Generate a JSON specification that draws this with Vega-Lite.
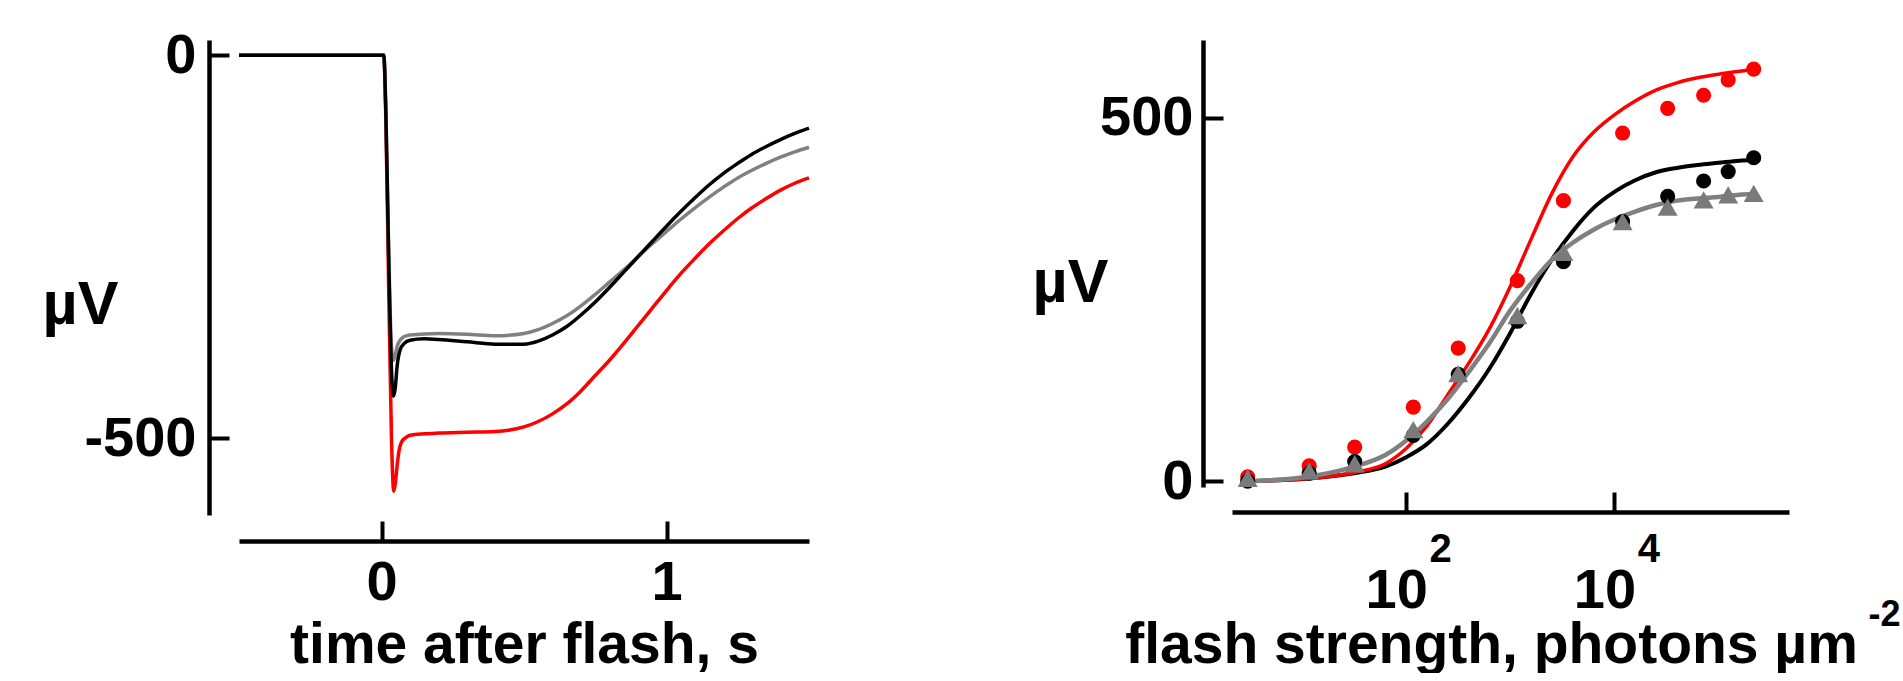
{
  "$schema": "https://vega.github.io/schema/vega-lite/v6.json",
  "background": "white",
  "padding": {"left": 42, "top": 27, "right": 0, "bottom": 0},
  "config": {
    "view": {"stroke": null},
    "font": "Liberation Sans",
    "axis": {
      "labelFont": "Liberation Sans",
      "titleFont": "Liberation Sans",
      "labelFontWeight": "bold",
      "titleFontWeight": "bold",
      "labelColor": "#000000",
      "titleColor": "#000000",
      "domainColor": "#000000",
      "tickColor": "#000000",
      "grid": false,
      "domainWidth": 4.5,
      "tickWidth": 4,
      "tickSize": -20,
      "domainCap": "butt",
      "labelFontSize": 56,
      "titleFontSize": 57,
      "labelOverlap": false,
      "labelFlush": false,
      "labelBound": false
    }
  },
  "datasets": {
    "traces": [
      {"t": -0.5, "uV": 0, "trace": "red"}, {"t": 0.008, "uV": 0, "trace": "red"}, {"t": 0.015, "uV": -80, "trace": "red"}, {"t": 0.025, "uV": -300, "trace": "red"}, {"t": 0.035, "uV": -500, "trace": "red"}, {"t": 0.043, "uV": -569, "trace": "red"}, {"t": 0.048, "uV": -560, "trace": "red"}, {"t": 0.055, "uV": -535, "trace": "red"}, {"t": 0.062, "uV": -515, "trace": "red"}, {"t": 0.07, "uV": -505, "trace": "red"}, {"t": 0.085, "uV": -499, "trace": "red"}, {"t": 0.1, "uV": -496, "trace": "red"}, {"t": 0.15, "uV": -494, "trace": "red"}, {"t": 0.2, "uV": -493, "trace": "red"}, {"t": 0.3, "uV": -492, "trace": "red"}, {"t": 0.4, "uV": -491, "trace": "red"}, {"t": 0.45, "uV": -489, "trace": "red"}, {"t": 0.5, "uV": -485, "trace": "red"}, {"t": 0.55, "uV": -478, "trace": "red"}, {"t": 0.6, "uV": -468, "trace": "red"}, {"t": 0.65, "uV": -455, "trace": "red"}, {"t": 0.7, "uV": -438, "trace": "red"}, {"t": 0.75, "uV": -418, "trace": "red"}, {"t": 0.8, "uV": -398, "trace": "red"}, {"t": 0.85, "uV": -376, "trace": "red"}, {"t": 0.9, "uV": -353, "trace": "red"}, {"t": 0.95, "uV": -330, "trace": "red"}, {"t": 1.0, "uV": -307, "trace": "red"}, {"t": 1.05, "uV": -285, "trace": "red"}, {"t": 1.1, "uV": -265, "trace": "red"}, {"t": 1.15, "uV": -246, "trace": "red"}, {"t": 1.2, "uV": -229, "trace": "red"}, {"t": 1.25, "uV": -213, "trace": "red"}, {"t": 1.3, "uV": -199, "trace": "red"}, {"t": 1.35, "uV": -187, "trace": "red"}, {"t": 1.4, "uV": -176, "trace": "red"}, {"t": 1.45, "uV": -167, "trace": "red"}, {"t": 1.5, "uV": -160, "trace": "red"},
      {"t": -0.5, "uV": 0, "trace": "gray"}, {"t": 0.008, "uV": 0, "trace": "gray"}, {"t": 0.015, "uV": -70, "trace": "gray"}, {"t": 0.025, "uV": -250, "trace": "gray"}, {"t": 0.035, "uV": -380, "trace": "gray"}, {"t": 0.042, "uV": -398, "trace": "gray"}, {"t": 0.048, "uV": -392, "trace": "gray"}, {"t": 0.055, "uV": -380, "trace": "gray"}, {"t": 0.065, "uV": -372, "trace": "gray"}, {"t": 0.08, "uV": -367, "trace": "gray"}, {"t": 0.1, "uV": -365, "trace": "gray"}, {"t": 0.2, "uV": -363, "trace": "gray"}, {"t": 0.3, "uV": -364, "trace": "gray"}, {"t": 0.4, "uV": -366, "trace": "gray"}, {"t": 0.5, "uV": -363, "trace": "gray"}, {"t": 0.55, "uV": -358, "trace": "gray"}, {"t": 0.6, "uV": -350, "trace": "gray"}, {"t": 0.65, "uV": -340, "trace": "gray"}, {"t": 0.7, "uV": -327, "trace": "gray"}, {"t": 0.75, "uV": -312, "trace": "gray"}, {"t": 0.8, "uV": -296, "trace": "gray"}, {"t": 0.85, "uV": -280, "trace": "gray"}, {"t": 0.9, "uV": -263, "trace": "gray"}, {"t": 0.95, "uV": -246, "trace": "gray"}, {"t": 1.0, "uV": -230, "trace": "gray"}, {"t": 1.05, "uV": -214, "trace": "gray"}, {"t": 1.1, "uV": -199, "trace": "gray"}, {"t": 1.15, "uV": -185, "trace": "gray"}, {"t": 1.2, "uV": -172, "trace": "gray"}, {"t": 1.25, "uV": -160, "trace": "gray"}, {"t": 1.3, "uV": -150, "trace": "gray"}, {"t": 1.35, "uV": -141, "trace": "gray"}, {"t": 1.4, "uV": -133, "trace": "gray"}, {"t": 1.45, "uV": -126, "trace": "gray"}, {"t": 1.5, "uV": -120, "trace": "gray"},
      {"t": -0.5, "uV": 0, "trace": "black"}, {"t": 0.008, "uV": 0, "trace": "black"}, {"t": 0.015, "uV": -70, "trace": "black"}, {"t": 0.025, "uV": -260, "trace": "black"}, {"t": 0.035, "uV": -410, "trace": "black"}, {"t": 0.042, "uV": -445, "trace": "black"}, {"t": 0.048, "uV": -435, "trace": "black"}, {"t": 0.055, "uV": -405, "trace": "black"}, {"t": 0.065, "uV": -385, "trace": "black"}, {"t": 0.08, "uV": -376, "trace": "black"}, {"t": 0.1, "uV": -372, "trace": "black"}, {"t": 0.15, "uV": -370, "trace": "black"}, {"t": 0.2, "uV": -371, "trace": "black"}, {"t": 0.3, "uV": -374, "trace": "black"}, {"t": 0.4, "uV": -377, "trace": "black"}, {"t": 0.5, "uV": -377, "trace": "black"}, {"t": 0.55, "uV": -373, "trace": "black"}, {"t": 0.6, "uV": -365, "trace": "black"}, {"t": 0.65, "uV": -354, "trace": "black"}, {"t": 0.7, "uV": -339, "trace": "black"}, {"t": 0.75, "uV": -322, "trace": "black"}, {"t": 0.8, "uV": -303, "trace": "black"}, {"t": 0.85, "uV": -283, "trace": "black"}, {"t": 0.9, "uV": -263, "trace": "black"}, {"t": 0.95, "uV": -243, "trace": "black"}, {"t": 1.0, "uV": -223, "trace": "black"}, {"t": 1.05, "uV": -204, "trace": "black"}, {"t": 1.1, "uV": -186, "trace": "black"}, {"t": 1.15, "uV": -169, "trace": "black"}, {"t": 1.2, "uV": -154, "trace": "black"}, {"t": 1.25, "uV": -141, "trace": "black"}, {"t": 1.3, "uV": -129, "trace": "black"}, {"t": 1.35, "uV": -119, "trace": "black"}, {"t": 1.4, "uV": -110, "trace": "black"}, {"t": 1.45, "uV": -102, "trace": "black"}, {"t": 1.5, "uV": -95, "trace": "black"}
    ],
    "points": [
      {"I": 3.0, "uV": 6, "series": "red"}, {"I": 11.7, "uV": 21, "series": "red"}, {"I": 32, "uV": 47, "series": "red"}, {"I": 117, "uV": 102, "series": "red"}, {"I": 316, "uV": 183, "series": "red"}, {"I": 1170, "uV": 276, "series": "red"}, {"I": 3240, "uV": 386, "series": "red"}, {"I": 12000, "uV": 479, "series": "red"}, {"I": 32500, "uV": 513, "series": "red"}, {"I": 72000, "uV": 531, "series": "red"}, {"I": 124000, "uV": 552, "series": "red"}, {"I": 218000, "uV": 567, "series": "red"},
      {"I": 3.0, "uV": 0, "series": "black"}, {"I": 11.7, "uV": 11, "series": "black"}, {"I": 32, "uV": 27, "series": "black"}, {"I": 117, "uV": 63, "series": "black"}, {"I": 316, "uV": 147, "series": "black"}, {"I": 1170, "uV": 220, "series": "black"}, {"I": 3240, "uV": 302, "series": "black"}, {"I": 12000, "uV": 357, "series": "black"}, {"I": 32500, "uV": 392, "series": "black"}, {"I": 72000, "uV": 413, "series": "black"}, {"I": 124000, "uV": 426, "series": "black"}, {"I": 218000, "uV": 445, "series": "black"},
      {"I": 3.0, "uV": 4, "series": "gray"}, {"I": 11.7, "uV": 14, "series": "gray"}, {"I": 32, "uV": 24, "series": "gray"}, {"I": 117, "uV": 71, "series": "gray"}, {"I": 316, "uV": 148, "series": "gray"}, {"I": 1170, "uV": 228, "series": "gray"}, {"I": 3240, "uV": 315, "series": "gray"}, {"I": 12000, "uV": 357, "series": "gray"}, {"I": 32500, "uV": 377, "series": "gray"}, {"I": 72000, "uV": 387, "series": "gray"}, {"I": 124000, "uV": 394, "series": "gray"}, {"I": 218000, "uV": 396, "series": "gray"}
    ],
    "fits": [
      {"I": 3.02, "uV": 0, "series": "red"}, {"I": 10, "uV": 3, "series": "red"}, {"I": 31.6, "uV": 12, "series": "red"}, {"I": 63.1, "uV": 24, "series": "red"}, {"I": 100, "uV": 45, "series": "red"}, {"I": 158, "uV": 76, "series": "red"}, {"I": 251, "uV": 119, "series": "red"}, {"I": 398, "uV": 162, "series": "red"}, {"I": 631, "uV": 210, "series": "red"}, {"I": 1000, "uV": 268, "series": "red"}, {"I": 1585, "uV": 333, "series": "red"}, {"I": 2512, "uV": 396, "series": "red"}, {"I": 3981, "uV": 446, "series": "red"}, {"I": 6310, "uV": 480, "series": "red"}, {"I": 10000, "uV": 504, "series": "red"}, {"I": 15849, "uV": 523, "series": "red"}, {"I": 25119, "uV": 538, "series": "red"}, {"I": 39811, "uV": 548, "series": "red"}, {"I": 63096, "uV": 555, "series": "red"}, {"I": 100000, "uV": 560, "series": "red"}, {"I": 158489, "uV": 564, "series": "red"}, {"I": 218776, "uV": 566, "series": "red"},
      {"I": 3.02, "uV": 0, "series": "black"}, {"I": 10, "uV": 3, "series": "black"}, {"I": 31.6, "uV": 11, "series": "black"}, {"I": 63.1, "uV": 20, "series": "black"}, {"I": 100, "uV": 33, "series": "black"}, {"I": 158, "uV": 51, "series": "black"}, {"I": 251, "uV": 79, "series": "black"}, {"I": 398, "uV": 114, "series": "black"}, {"I": 631, "uV": 155, "series": "black"}, {"I": 1000, "uV": 204, "series": "black"}, {"I": 1585, "uV": 258, "series": "black"}, {"I": 2512, "uV": 305, "series": "black"}, {"I": 3981, "uV": 344, "series": "black"}, {"I": 6310, "uV": 376, "series": "black"}, {"I": 10000, "uV": 398, "series": "black"}, {"I": 15849, "uV": 414, "series": "black"}, {"I": 25119, "uV": 425, "series": "black"}, {"I": 39811, "uV": 431, "series": "black"}, {"I": 63096, "uV": 435, "series": "black"}, {"I": 100000, "uV": 438, "series": "black"}, {"I": 158489, "uV": 441, "series": "black"}, {"I": 218776, "uV": 442, "series": "black"},
      {"I": 3.02, "uV": 0, "series": "gray"}, {"I": 10, "uV": 5, "series": "gray"}, {"I": 31.6, "uV": 20, "series": "gray"}, {"I": 63.1, "uV": 36, "series": "gray"}, {"I": 100, "uV": 56, "series": "gray"}, {"I": 158, "uV": 82, "series": "gray"}, {"I": 251, "uV": 113, "series": "gray"}, {"I": 398, "uV": 150, "series": "gray"}, {"I": 631, "uV": 190, "series": "gray"}, {"I": 1000, "uV": 235, "series": "gray"}, {"I": 1585, "uV": 272, "series": "gray"}, {"I": 2512, "uV": 305, "series": "gray"}, {"I": 3981, "uV": 328, "series": "gray"}, {"I": 6310, "uV": 346, "series": "gray"}, {"I": 10000, "uV": 360, "series": "gray"}, {"I": 15849, "uV": 371, "series": "gray"}, {"I": 25119, "uV": 380, "series": "gray"}, {"I": 39811, "uV": 386, "series": "gray"}, {"I": 63096, "uV": 389, "series": "gray"}, {"I": 100000, "uV": 391, "series": "gray"}, {"I": 158489, "uV": 394, "series": "gray"}, {"I": 218776, "uV": 395, "series": "gray"}
    ]
  },
  "bounds": "flush",
  "spacing": 423,
  "hconcat": [
    {
      "width": 570,
      "height": 475,
      "data": {"name": "traces"},
      "encoding": {
        "x": {
          "field": "t", "type": "quantitative",
          "scale": {"domain": [-0.5, 1.5], "nice": false, "zero": false},
          "axis": {
            "values": [0, 1], "offset": 26, "labelPadding": 78, "labelBaseline": "alphabetic",
            "title": "time after flash, s", "titleY": 121, "titleBaseline": "alphabetic"
          }
        },
        "y": {
          "field": "uV", "type": "quantitative",
          "scale": {"domain": [-600, 20], "nice": false, "zero": false},
          "axis": {
            "values": [0, -500], "offset": 30, "labelPadding": 33,
            "labelExpr": "datum.value < 0 ? '-' + abs(datum.value) : '' + datum.value",
            "title": "µV", "titleFontSize": 61, "titleAngle": 0, "titleAlign": "left", "titleBaseline": "alphabetic",
            "titleX": -167, "titleY": 283
          }
        }
      },
      "layer": [
        {"transform": [{"filter": "datum.trace == 'red'"}], "mark": {"type": "line", "color": "#ff0000", "strokeWidth": 3.5, "interpolate": "monotone"}},
        {"transform": [{"filter": "datum.trace == 'gray'"}], "mark": {"type": "line", "color": "#808080", "strokeWidth": 3.5, "interpolate": "monotone"}},
        {"transform": [{"filter": "datum.trace == 'black'"}], "mark": {"type": "line", "color": "#000000", "strokeWidth": 3.5, "interpolate": "monotone"}}
      ]
    },
    {
      "width": 557,
      "height": 447,
      "resolve": {"axis": {"x": "independent"}},
      "encoding": {
        "y": {
          "field": "uV", "type": "quantitative",
          "scale": {"domain": [-8, 607], "nice": false, "zero": false},
          "axis": {
            "values": [0, 500], "offset": 29, "labelPadding": 30,
            "title": "µV", "titleFontSize": 61, "titleAngle": 0, "titleAlign": "left", "titleBaseline": "alphabetic",
            "titleX": -171, "titleY": 261
          }
        }
      },
      "layer": [
        {
          "data": {"name": "fits"},
          "transform": [{"filter": "datum.series == 'black'"}],
          "mark": {"type": "line", "color": "#000000", "strokeWidth": 4, "interpolate": "monotone"},
          "encoding": {
            "x": {
              "field": "I", "type": "quantitative",
              "scale": {"type": "log", "domain": [2.12, 476000], "nice": false},
              "axis": {
                "orient": "bottom", "values": [100, 10000], "labelExpr": "'10'", "labelOffset": -10,
                "offset": 25, "labelPadding": 115, "labelBaseline": "alphabetic",
                "title": "flash strength, photons µm", "titleX": 259, "titleY": 150, "titleBaseline": "alphabetic"
              }
            }
          }
        },
        {
          "data": {"name": "fits"},
          "transform": [{"filter": "datum.series == 'red'"}],
          "mark": {"type": "line", "color": "#ff0000", "strokeWidth": 3.5, "interpolate": "monotone"},
          "encoding": {"x": {"field": "I", "type": "quantitative", "axis": null}}
        },
        {
          "data": {"name": "fits"},
          "transform": [{"filter": "datum.series == 'gray'"}],
          "mark": {"type": "line", "color": "#808080", "strokeWidth": 4.5, "interpolate": "monotone"},
          "encoding": {"x": {"field": "I", "type": "quantitative", "axis": null}}
        },
        {
          "data": {"name": "points"},
          "transform": [{"filter": "datum.series == 'red'"}],
          "mark": {"type": "point", "shape": "circle", "filled": true, "size": 230, "color": "#ff0000", "opacity": 1},
          "encoding": {
            "x": {
              "field": "I", "type": "quantitative",
              "axis": {
                "orient": "bottom", "values": [100, 10000],
                "labelExpr": "datum.value == 100 ? '2' : '4'",
                "labelFontSize": 40, "labelOffset": 34, "labelPadding": 69, "labelBaseline": "alphabetic",
                "domain": false, "ticks": true, "tickOpacity": 0, "offset": 25,
                "title": "-2", "titleFontSize": 36, "titleX": 636, "titleY": 113,
                "titleAlign": "left", "titleBaseline": "alphabetic"
              }
            }
          }
        },
        {
          "data": {"name": "points"},
          "transform": [{"filter": "datum.series == 'black'"}],
          "mark": {"type": "point", "shape": "circle", "filled": true, "size": 230, "color": "#000000", "opacity": 1},
          "encoding": {"x": {"field": "I", "type": "quantitative", "axis": null}}
        },
        {
          "data": {"name": "points"},
          "transform": [{"filter": "datum.series == 'gray'"}],
          "mark": {"type": "point", "shape": "triangle-up", "filled": true, "size": 400, "color": "#7a7a7a", "opacity": 1},
          "encoding": {"x": {"field": "I", "type": "quantitative", "axis": null}}
        }
      ]
    }
  ]
}
